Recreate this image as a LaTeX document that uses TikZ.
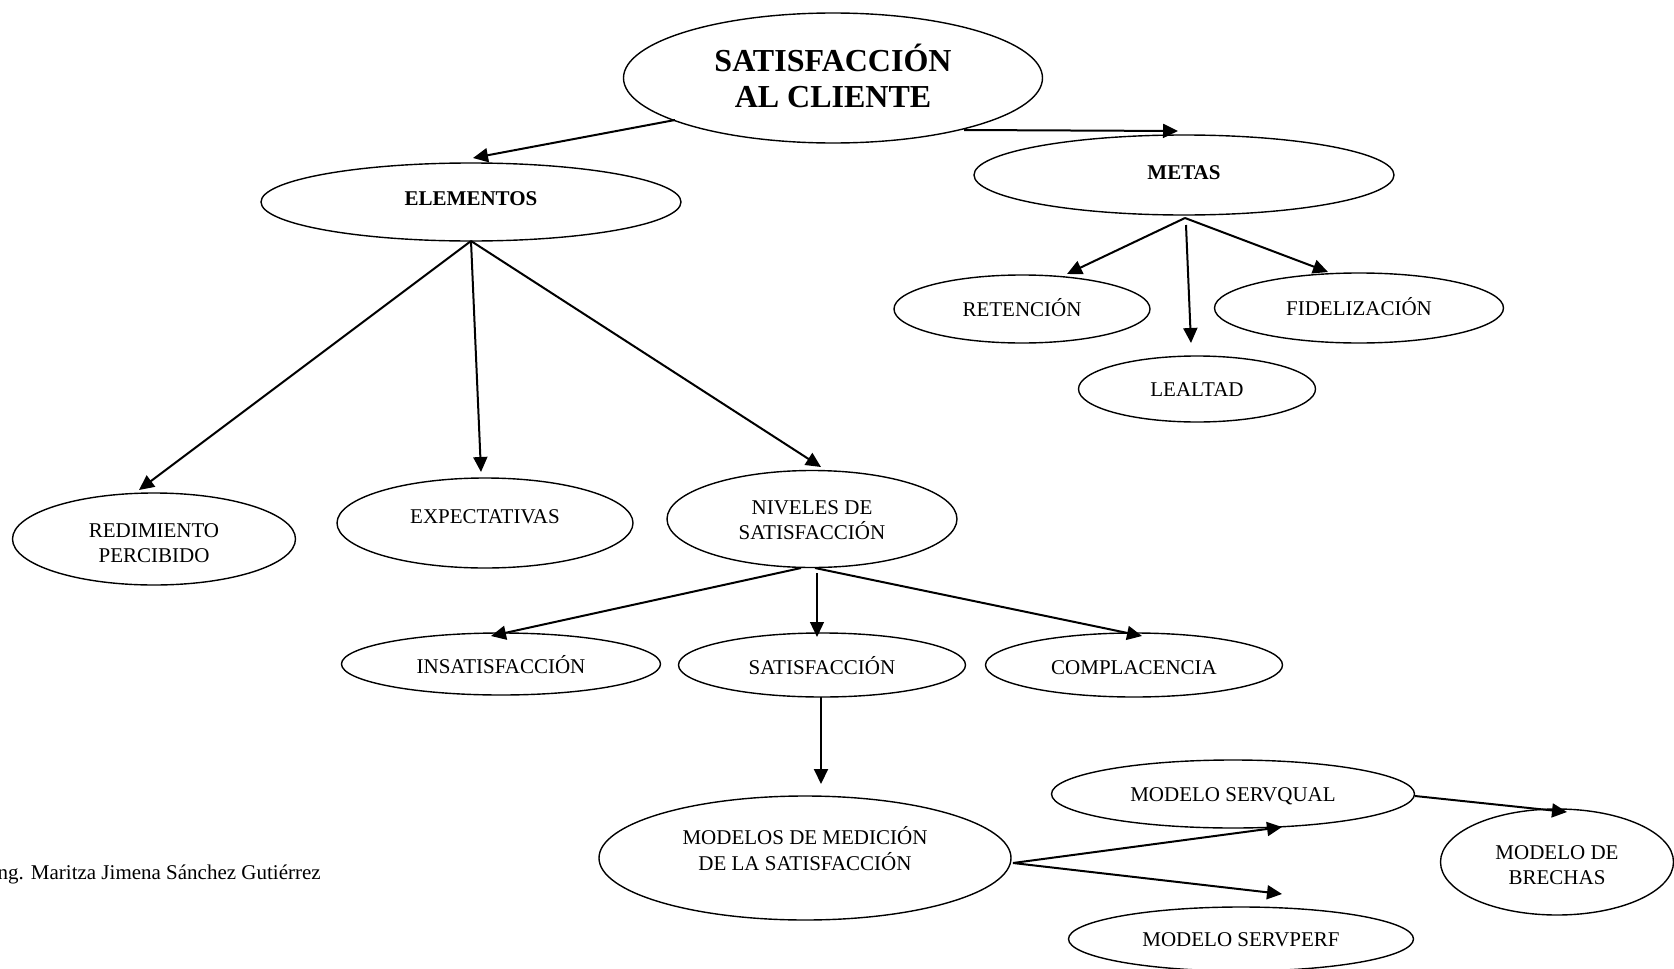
\documentclass[tikz,border=0pt]{standalone}
\usepackage{fontspec}
\setmainfont{Liberation Serif}
\usetikzlibrary{shapes.geometric,arrows.meta,calc}
\newcommand\twolines[3]{\raisebox{#1}[0pt][0pt]{\begin{tabular}{@{}c@{}}#2\\#3\end{tabular}}}
\begin{document}
\begin{tikzpicture}[x=1pt,y=-1pt,
  ell/.style={ellipse,draw,line width=1.4pt,inner sep=0pt,font=\fontsize{21}{25}\selectfont},
  one/.style={text height=15pt,text depth=0pt},
  arr/.style={line width=2pt,-{Triangle[length=15pt,width=14pt]}},
  thinarr/.style={line width=1.3pt,-{Triangle[length=15pt,width=14pt]}},
]
\useasboundingbox (0,0) rectangle (1674,969);

\node[ell,minimum width=419pt,minimum height=130pt,font=\bfseries\fontsize{32}{36}\selectfont] (title) at (833,78) {\twolines{-9.8pt}{SATISFACCIÓN}{AL CLIENTE}};
\node[ell,text height=15pt,text depth=8.6pt,minimum width=420pt,minimum height=78pt,font=\bfseries\fontsize{21}{25}\selectfont] (ele) at (471,202) {ELEMENTOS};
\node[ell,text height=15pt,text depth=6.4pt,minimum width=420pt,minimum height=80pt,font=\bfseries\fontsize{21}{25}\selectfont] (metas) at (1184,175) {METAS};
\node[ell,one,minimum width=256pt,minimum height=68pt] (ret) at (1022,309) {RETENCIÓN};
\node[ell,one,minimum width=289pt,minimum height=70pt] (fid) at (1359,308) {FIDELIZACIÓN};
\node[ell,one,minimum width=237pt,minimum height=66pt] (leal) at (1197,389) {LEALTAD};
\node[ell,minimum width=283pt,minimum height=92pt] (red) at (154,539) {\twolines{-10.75pt}{REDIMIENTO}{PERCIBIDO}};
\node[ell,text height=15pt,text depth=14pt,minimum width=296pt,minimum height=90pt] (exp) at (485,523) {EXPECTATIVAS};
\node[ell,minimum width=290pt,minimum height=97pt] (niv) at (812,519) {\twolines{-8.25pt}{NIVELES DE}{SATISFACCIÓN}};
\node[ell,text height=19pt,text depth=0pt,minimum width=319pt,minimum height=62pt] (insat) at (501,664) {INSATISFACCIÓN};
\node[ell,text height=19pt,text depth=0pt,minimum width=287pt,minimum height=64pt] (sat) at (822,665) {SATISFACCIÓN};
\node[ell,text height=19pt,text depth=0pt,minimum width=297pt,minimum height=64pt] (comp) at (1134,665) {COMPLACENCIA};
\node[ell,minimum width=412pt,minimum height=124pt] (mod) at (805,858) {\twolines{0.75pt}{MODELOS DE MEDICIÓN}{DE LA SATISFACCIÓN}};
\node[ell,one,minimum width=363pt,minimum height=68pt] (sq) at (1233,794) {MODELO SERVQUAL};
\node[ell,one,minimum width=345pt,minimum height=64pt] (sp) at (1241,939) {MODELO SERVPERF};
\node[ell,minimum width=233pt,minimum height=106pt] (bre) at (1557,862) {\twolines{-9.75pt}{MODELO DE}{BRECHAS}};

\node[anchor=base west,inner sep=0pt,font=\fontsize{21}{25}\selectfont] (auth) at (-9.5,879) {Ing. Maritza Jimena Sánchez Gutiérrez};

\draw[arr] ($(title)+(-158,42)$) -- ($(ele)+(2,-44)$);
\draw[arr] ($(title)+(131,52)$) -- ($(metas)+(-6,-44)$);
\draw[arr] ($(ele)+(0,39)$) -- ($(red)+(-15,-49)$);
\draw[arr] ($(ele)+(0,39)$) -- ($(exp)+(-4,-51)$);
\draw[arr] ($(ele)+(0,39)$) -- ($(niv)+(9,-52)$);
\draw[arr] ($(metas)+(1,43)$) -- ($(ret)+(45,-35)$);
\draw[arr] ($(metas)+(2,50)$) -- ($(leal)+(-6,-46)$);
\draw[arr] ($(metas)+(1,43)$) -- ($(fid)+(-31,-36)$);
\draw[arr] ($(niv)+(-11,49)$) -- ($(insat)+(-10,-28)$);
\draw[thinarr] ($(niv)+(5,54)$) -- ($(sat)+(-5,-28)$);
\draw[arr] ($(niv)+(3,49)$) -- ($(comp)+(8,-29)$);
\draw[arr] ($(sat)+(-1,32)$) -- ($(mod)+(16,-74)$);
\draw[arr] ($(mod)+(208,5)$) -- ($(sq)+(49,33)$);
\draw[arr] ($(mod)+(208,5)$) -- ($(sp)+(41,-45)$);
\draw[arr] ($(sq)+(182,2)$) -- ($(bre)+(10,-50)$);
\end{tikzpicture}
\end{document}
